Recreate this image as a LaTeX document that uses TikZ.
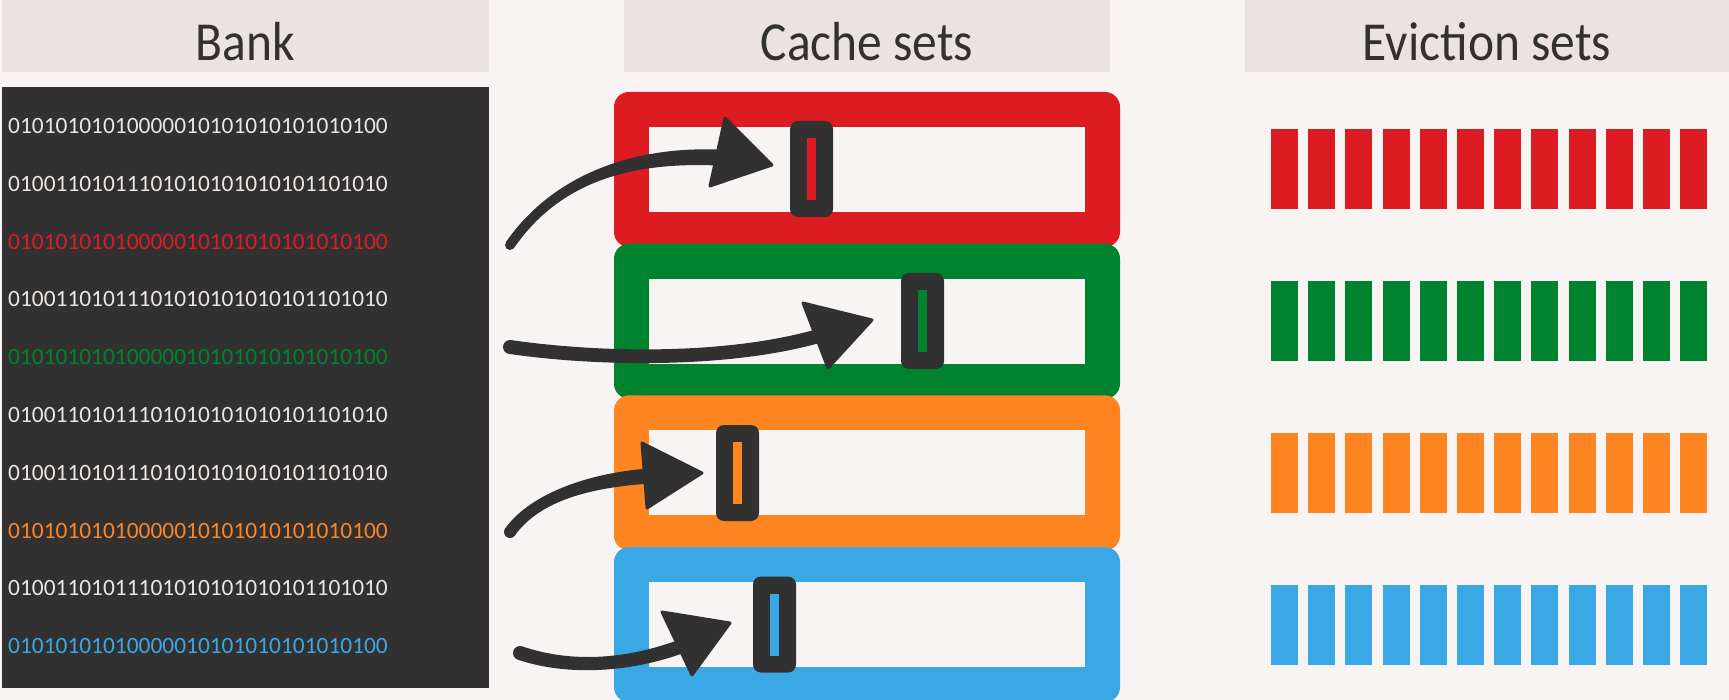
\documentclass[tikz,border=0pt]{standalone}
\usepackage{fontspec}
\setmainfont{Carlito}
\newfontfamily\titlefont[FakeStretch=0.9]{Carlito}
\usetikzlibrary{calc}

\definecolor{pagebg}{HTML}{F8F4F3}
\definecolor{headbg}{HTML}{EBE3E1}
\definecolor{ink}{HTML}{313131}
\definecolor{bittext}{HTML}{ECE6E3}
\definecolor{setred}{HTML}{DC1C22}
\definecolor{setgreen}{HTML}{00832E}
\definecolor{setorange}{HTML}{FF8522}
\definecolor{setblue}{HTML}{3AA8E4}

% tapered brush-stroke shaft: tail, control 1, control 2, end, half width at tail, half width at end
\newcommand\brushshaft[6]{%
  \fill[ink] ($(#1)!#5!90:(#2)$) .. controls ($(#2)!#5!-90:(#1)$) and ($(#3)!#6!90:(#4)$) .. ($(#4)!#6!-90:(#3)$)
    -- ($(#4)!#6!90:(#3)$) .. controls ($(#3)!#6!-90:(#4)$) and ($(#2)!#5!90:(#1)$) .. ($(#1)!#5!-90:(#2)$) -- cycle;
  \fill[ink] (#1) circle[radius=#5];
}
% triangular arrow head with softened corners
\newcommand\brushhead[3]{%
  \filldraw[ink, line width=3pt, line join=round] (#1) -- (#2) -- (#3) -- cycle;
}

\begin{document}
\begin{tikzpicture}[x=1pt, y=-1pt,
  headbox/.style={fill=headbg, draw=none, inner sep=0pt, minimum height=72pt},
  title/.style={font=\titlefont\fontsize{55}{60}\selectfont, text=ink, inner sep=0pt, anchor=base},
  bits/.style={font=\fontsize{23.4}{28}\selectfont, inner sep=0pt, anchor=base west},
  cacheouter/.style={draw=none, inner sep=0pt, minimum width=506pt, minimum height=155pt, rounded corners=15pt},
  cacheinner/.style={fill=pagebg, draw=none, inner sep=0pt, minimum width=436pt, minimum height=85pt},
  marker/.style={fill=ink, draw=none, inner sep=0pt, minimum width=43pt, minimum height=96pt, rounded corners=8pt},
  slot/.style={draw=none, inner sep=0pt, minimum width=9pt, minimum height=62pt},
  bar/.style={draw=none, inner sep=0pt, minimum width=27pt, minimum height=80pt}
]
\useasboundingbox (0,0) rectangle (1729,700);
\fill[pagebg] (0,0) rectangle (1729,700);

% column headers
\node[headbox, minimum width=487pt] (hbank) at (245.5,36) {};
\node[headbox, minimum width=486pt] (hcache) at (867,36) {};
\node[headbox, minimum width=484pt] (hevict) at (1487,36) {};
\node[title] (tbank) at (245.5,61) {Bank};
\node[title] (tcache) at (867,61) {Cache sets};
\node[title] (tevict) at (1487,61) {Eviction sets};

% memory bank with its rows of bits
\node[fill=ink, draw=none, inner sep=0pt, minimum width=487pt, minimum height=601pt] (bank) at (245.5,387.5) {};
\node[bits, text=bittext]   (l1)  at (8,133.5) {01010101010000010101010101010100};
\node[bits, text=bittext]   (l2)  at (8,191.3) {01001101011101010101010101101010};
\node[bits, text=setred]    (l3)  at (8,249.1) {01010101010000010101010101010100};
\node[bits, text=bittext]   (l4)  at (8,306.9) {01001101011101010101010101101010};
\node[bits, text=setgreen]  (l5)  at (8,364.7) {01010101010000010101010101010100};
\node[bits, text=bittext]   (l6)  at (8,422.5) {01001101011101010101010101101010};
\node[bits, text=bittext]   (l7)  at (8,480.3) {01001101011101010101010101101010};
\node[bits, text=setorange] (l8)  at (8,538.1) {01010101010000010101010101010100};
\node[bits, text=bittext]   (l9)  at (8,595.9) {01001101011101010101010101101010};
\node[bits, text=setblue]   (l10) at (8,653.7) {01010101010000010101010101010100};

% cache sets
\node[cacheouter, fill=setred]    (c1) at (867,169.5) {};
\node[cacheinner]                 (i1) at (867,169.5) {};
\node[cacheouter, fill=setgreen]  (c2) at (867,321.2) {};
\node[cacheinner]                 (i2) at (867,321.2) {};
\node[cacheouter, fill=setorange] (c3) at (867,472.9) {};
\node[cacheinner]                 (i3) at (867,472.9) {};
\node[cacheouter, fill=setblue]   (c4) at (867,624.6) {};
\node[cacheinner]                 (i4) at (867,624.6) {};

% selected line inside each set
\node[marker] (m1) at (811.5,169) {};
\node[slot, fill=setred] (s1) at (m1.center) {};
\node[marker] (m2) at (922.5,321) {};
\node[slot, fill=setgreen] (s2) at (m2.center) {};
\node[marker] (m3) at (737.5,473) {};
\node[slot, fill=setorange] (s3) at (m3.center) {};
\node[marker] (m4) at (774.5,624.5) {};
\node[slot, fill=setblue] (s4) at (m4.center) {};

% eviction sets
\foreach \row/\col in {0/setred,1/setgreen,2/setorange,3/setblue}{
  \foreach \i in {0,...,11}{
    \node[bar, fill=\col] (e\row-\i) at ({1284.5+37.2*\i},{169+152*\row}) {};
  }
}

% mapping arrows from bank rows to cache lines
\coordinate (r0) at (510,245);  \coordinate (r1) at (555,180);
\coordinate (r2) at (630,152);  \coordinate (r3) at (727,158);
\coordinate (rA) at (725,118);  \coordinate (rT) at (772,165);  \coordinate (rB) at (710,186);
\brushshaft{r0}{r1}{r2}{r3}{5pt}{8pt}
\brushhead{rA}{rT}{rB}

\coordinate (g0) at (510,347);  \coordinate (g1) at (600,360);
\coordinate (g2) at (730,362);  \coordinate (g3) at (822,335);
\coordinate (gA) at (803,303);  \coordinate (gT) at (872,320);  \coordinate (gB) at (828,368);
\brushshaft{g0}{g1}{g2}{g3}{7pt}{7pt}
\brushhead{gA}{gT}{gB}

\coordinate (o0) at (510,532);  \coordinate (o1) at (535,497);
\coordinate (o2) at (590,480);  \coordinate (o3) at (650,476);
\coordinate (oA) at (642,443);  \coordinate (oT) at (702,473);  \coordinate (oB) at (647,508);
\brushshaft{o0}{o1}{o2}{o3}{6pt}{7.5pt}
\brushhead{oA}{oT}{oB}

\coordinate (b0) at (520,653);  \coordinate (b1) at (570,670);
\coordinate (b2) at (630,666);  \coordinate (b3) at (685,645);
\coordinate (bA) at (662,612);  \coordinate (bT) at (730,623);  \coordinate (bB) at (692,675);
\brushshaft{b0}{b1}{b2}{b3}{7pt}{7pt}
\brushhead{bA}{bT}{bB}
\end{tikzpicture}
\end{document}
